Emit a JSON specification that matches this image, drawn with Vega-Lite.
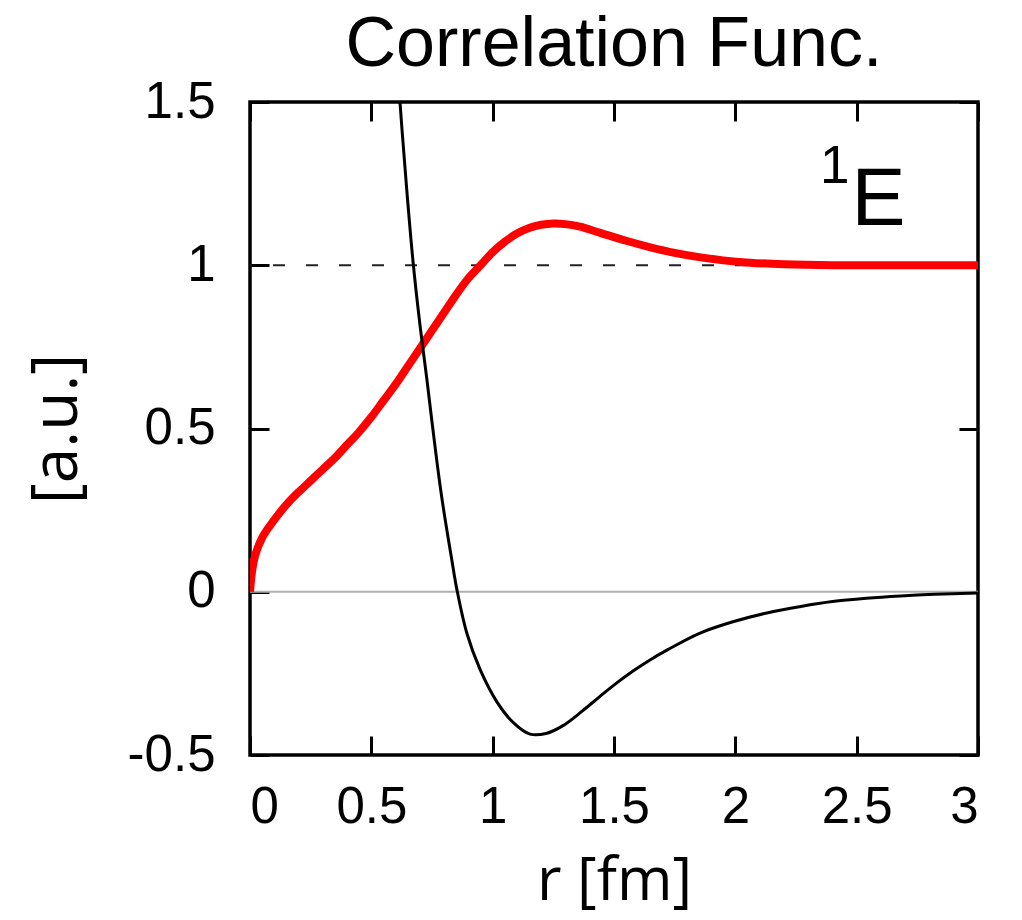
{
  "$schema": "https://vega.github.io/schema/vega-lite/v6.json",
  "width": 728,
  "height": 653,
  "autosize": "none",
  "padding": {"left": 250, "top": 102, "right": 44, "bottom": 165},
  "background": "white",
  "title": {
    "text": "Correlation Func.",
    "font": "Liberation Sans",
    "fontSize": 70,
    "fontWeight": "normal",
    "color": "black",
    "anchor": "middle",
    "offset": -5
  },
  "config": {
    "view": {"stroke": "black", "strokeWidth": 3.5},
    "axis": {
      "domain": false,
      "grid": false,
      "ticks": true,
      "tickSize": -19,
      "tickWidth": 3,
      "tickColor": "black",
      "labelFont": "Liberation Sans",
      "labelFontSize": 51,
      "labelColor": "black",
      "labelExpr": "'' + datum.value",
      "titleFont": "Open Sans",
      "titleFontSize": 60,
      "titleFontWeight": "normal",
      "titleColor": "black"
    }
  },
  "datasets": {
    "red": [
      {"r": 0.0, "v": 0.0},
      {"r": 0.01, "v": 0.07},
      {"r": 0.025, "v": 0.12},
      {"r": 0.05, "v": 0.165},
      {"r": 0.08, "v": 0.2},
      {"r": 0.12, "v": 0.24},
      {"r": 0.16, "v": 0.275},
      {"r": 0.2, "v": 0.305},
      {"r": 0.25, "v": 0.34},
      {"r": 0.3, "v": 0.375},
      {"r": 0.35, "v": 0.41},
      {"r": 0.4, "v": 0.45},
      {"r": 0.45, "v": 0.49},
      {"r": 0.5, "v": 0.535},
      {"r": 0.55, "v": 0.585},
      {"r": 0.6, "v": 0.635},
      {"r": 0.65, "v": 0.69},
      {"r": 0.7, "v": 0.745},
      {"r": 0.75, "v": 0.8},
      {"r": 0.8, "v": 0.855},
      {"r": 0.85, "v": 0.91},
      {"r": 0.9, "v": 0.96},
      {"r": 0.95, "v": 1.0},
      {"r": 1.0, "v": 1.04},
      {"r": 1.05, "v": 1.072},
      {"r": 1.1, "v": 1.097},
      {"r": 1.15, "v": 1.114},
      {"r": 1.2, "v": 1.124},
      {"r": 1.25, "v": 1.128},
      {"r": 1.3, "v": 1.126},
      {"r": 1.36, "v": 1.118},
      {"r": 1.44, "v": 1.10},
      {"r": 1.55, "v": 1.075},
      {"r": 1.65, "v": 1.055},
      {"r": 1.75, "v": 1.038},
      {"r": 1.85, "v": 1.025},
      {"r": 1.95, "v": 1.015},
      {"r": 2.06, "v": 1.008},
      {"r": 2.2, "v": 1.003},
      {"r": 2.4, "v": 1.0},
      {"r": 2.7, "v": 1.0},
      {"r": 3.0, "v": 1.0}
    ],
    "black": [
      {"r": 0.57, "v": 2.05},
      {"r": 0.595, "v": 1.76},
      {"r": 0.618, "v": 1.50},
      {"r": 0.645, "v": 1.24},
      {"r": 0.672, "v": 1.01},
      {"r": 0.70, "v": 0.82},
      {"r": 0.729, "v": 0.65},
      {"r": 0.75, "v": 0.52},
      {"r": 0.77, "v": 0.40},
      {"r": 0.79, "v": 0.29},
      {"r": 0.811, "v": 0.19},
      {"r": 0.83, "v": 0.105},
      {"r": 0.853, "v": 0.005},
      {"r": 0.894, "v": -0.128},
      {"r": 0.948, "v": -0.238},
      {"r": 1.018, "v": -0.338},
      {"r": 1.084, "v": -0.40},
      {"r": 1.154, "v": -0.436},
      {"r": 1.22, "v": -0.434},
      {"r": 1.29, "v": -0.41},
      {"r": 1.37, "v": -0.365},
      {"r": 1.44, "v": -0.322},
      {"r": 1.51, "v": -0.28},
      {"r": 1.58, "v": -0.242},
      {"r": 1.65, "v": -0.208},
      {"r": 1.72, "v": -0.178},
      {"r": 1.85, "v": -0.128},
      {"r": 1.99, "v": -0.092},
      {"r": 2.13, "v": -0.065},
      {"r": 2.27, "v": -0.045},
      {"r": 2.40, "v": -0.03},
      {"r": 2.54, "v": -0.02},
      {"r": 2.68, "v": -0.013},
      {"r": 2.82, "v": -0.008},
      {"r": 3.0, "v": -0.004}
    ]
  },
  "resolve": {"axis": {"x": "independent", "y": "independent"}},
  "layer": [
    {
      "data": {"values": [{"v": 0}]},
      "mark": {"type": "rule", "color": "#b0b0b0", "strokeWidth": 2},
      "encoding": {
        "y": {"field": "v", "type": "quantitative", "scale": {"domain": [-0.5, 1.5], "nice": false},
          "axis": {"orient": "left", "values": [-0.5, 0, 0.5, 1, 1.5], "labelPadding": 54, "title": "[a.u.]", "titleFontSize": 64, "titlePadding": 38}}
      }
    },
    {
      "data": {"values": [{"v": 1}]},
      "mark": {"type": "rule", "color": "#222222", "strokeWidth": 2, "strokeDash": [12, 21]},
      "encoding": {
        "y": {"field": "v", "type": "quantitative", "axis": null}
      }
    },
    {
      "data": {"name": "red"},
      "mark": {"type": "line", "color": "#ff0000", "strokeWidth": 8, "interpolate": "catmull-rom", "clip": true},
      "encoding": {
        "x": {"field": "r", "type": "quantitative", "scale": {"domain": [0, 3], "nice": false},
          "axis": {"orient": "bottom", "values": [0, 0.5, 1, 1.5, 2, 2.5, 3], "labelPadding": 46, "labelDx": 8, "title": "r [fm]", "titlePadding": 20}},
        "y": {"field": "v", "type": "quantitative", "axis": null}
      }
    },
    {
      "data": {"name": "black"},
      "mark": {"type": "line", "color": "black", "strokeWidth": 3, "interpolate": "catmull-rom", "clip": true},
      "encoding": {
        "x": {"field": "r", "type": "quantitative",
          "axis": {"orient": "top", "values": [0, 0.5, 1, 1.5, 2, 2.5, 3], "labels": false, "title": null}},
        "y": {"field": "v", "type": "quantitative",
          "axis": {"orient": "right", "values": [-0.5, 0, 0.5, 1, 1.5], "labels": false, "title": null}}
      }
    },
    {
      "data": {"values": [{"r": 2.59, "v": 1.124, "label": "E"}]},
      "mark": {"type": "text", "font": "Liberation Sans", "fontSize": 81, "color": "black", "align": "center", "baseline": "alphabetic"},
      "encoding": {
        "x": {"field": "r", "type": "quantitative", "axis": null},
        "y": {"field": "v", "type": "quantitative", "axis": null},
        "text": {"field": "label"}
      }
    },
    {
      "data": {"values": [{"r": 2.41, "v": 1.253, "label": "1"}]},
      "mark": {"type": "text", "font": "Liberation Sans", "fontSize": 53, "color": "black", "align": "center", "baseline": "alphabetic"},
      "encoding": {
        "x": {"field": "r", "type": "quantitative", "axis": null},
        "y": {"field": "v", "type": "quantitative", "axis": null},
        "text": {"field": "label"}
      }
    }
  ]
}
